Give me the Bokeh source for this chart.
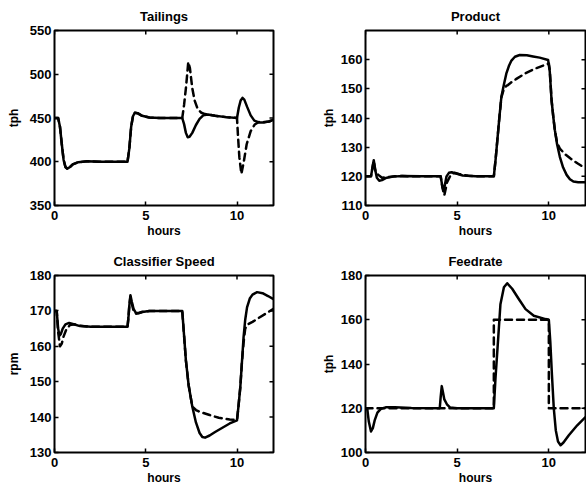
from math import pi

from bokeh.plotting import figure
from bokeh.layouts import gridplot
from bokeh.models import Range1d, FixedTicker
from bokeh.embed import file_html
from bokeh.resources import INLINE

# ---------------- data ----------------
hour_ticks = [0, 5, 10]
hour_range = (0, 12)

# Tailings (tph)
tailings_t_a = [0, 0.2, 0.3, 0.4, 0.5, 0.6, 0.7, 0.85, 1.0, 1.3, 1.8, 2.5, 4.0, 4.1, 4.2, 4.3, 4.4,
                4.55, 4.8, 5.2, 5.8, 7.0, 7.1, 7.2, 7.3, 7.4, 7.55, 7.75, 7.95, 8.15, 8.4, 8.8, 9.4,
                10.0, 10.1, 10.2, 10.3, 10.4, 10.55, 10.75, 10.95, 11.2, 11.5, 11.75, 12.0]
tailings_a = [450, 450, 440, 420, 402, 394, 392, 394, 397, 399.5, 400.5, 400, 400, 415, 440, 452, 456,
              455.5, 452.5, 450.5, 450, 450, 443, 433, 428, 428.5, 433, 442, 449, 453, 454, 452.5, 451,
              450, 462, 470, 473, 471, 463, 453, 447, 445, 445, 446, 448]
tailings_t_b = [0, 0.2, 0.3, 0.4, 0.5, 0.6, 0.7, 0.85, 1.0, 1.3, 1.8, 2.5, 4.0, 4.1, 4.2, 4.3, 4.4,
                4.55, 4.8, 5.2, 5.8, 7.0, 7.1, 7.2, 7.27, 7.33, 7.42, 7.55, 7.68, 7.85, 8.05, 8.25, 8.4,
                8.8, 9.4, 10.0, 10.05, 10.13, 10.24, 10.38, 10.53, 10.75, 10.97, 11.2, 11.5, 11.75, 12.0]
tailings_b = [450, 450, 440, 420, 402, 394, 392, 394, 397, 399.5, 400.5, 400, 400, 415, 440, 452, 456,
              455.5, 452.5, 450.5, 450, 450, 465, 484, 500, 514, 507, 484, 470, 460, 456, 454.5, 454,
              452.5, 451, 450, 431, 405, 386, 401, 420, 435, 442.5, 445.5, 445.5, 446, 448]

# Product (tph)
product_t_a = [0, 0.3, 0.38, 0.45, 0.52, 0.62, 0.75, 0.9, 1.1, 1.5, 2.0, 3.0, 4.1, 4.18, 4.26, 4.33,
               4.42, 4.55, 4.7, 4.9, 5.3, 6.0, 7.0, 7.1, 7.2, 7.3, 7.41, 7.55, 7.68, 7.82, 7.96, 8.15,
               8.41, 8.8, 9.14, 9.5, 9.96, 10.05, 10.15, 10.25, 10.33, 10.45, 10.6, 10.78, 10.97,
               11.15, 11.34, 11.6, 12.0]
product_a = [120, 120, 123, 125.5, 122.5, 119.5, 118.5, 118.7, 119.4, 119.9, 120.1, 120, 120, 117, 115,
             117, 120, 121.2, 121.4, 121, 120.3, 120, 120, 126, 133, 140, 147.2, 151.5, 155.2, 157.8,
             159.7, 161, 161.6, 161.5, 161.1, 160.7, 159.9, 156, 146, 140, 135.8, 131, 126.7, 123,
             120.5, 119, 118.2, 118, 118]
product_t_b = [0, 0.3, 0.38, 0.45, 0.55, 0.7, 0.9, 1.2, 1.6, 2.0, 3.0, 4.1, 4.2, 4.3, 4.45, 4.65, 4.85,
               5.1, 5.6, 6.0, 7.0, 7.1, 7.2, 7.3, 7.41, 7.55, 7.68, 7.77, 8.0, 8.23, 8.69, 9.24, 9.87,
               10.0, 10.05, 10.15, 10.25, 10.33, 10.45, 10.6, 10.9, 11.2, 11.6, 12.0]
product_b = [120, 120, 123, 125.3, 121.5, 120.5, 119.5, 119.7, 120, 120.1, 120, 120, 116, 113.5, 118,
             120.5, 121.2, 120.8, 120.2, 120, 120, 126, 133, 140, 147, 150, 151, 151.3, 152.5, 153.4,
             155.2, 156.9, 158.4, 158.7, 156.5, 146, 140, 135.8, 131.5, 129.5, 127.5, 126, 124.3, 122.7]

# Classifier speed (rpm)
classifier_t_a = [0, 0.12, 0.2, 0.27, 0.35, 0.45, 0.6, 0.8, 1.0, 1.4, 2.0, 4.0, 4.05, 4.1, 4.16, 4.24,
                  4.33, 4.45, 4.6, 4.8, 5.2, 7.0, 7.1, 7.2, 7.35, 7.55, 7.75, 7.95, 8.1, 8.25, 8.5, 8.8,
                  9.2, 9.6, 10.0, 10.08, 10.18, 10.27, 10.36, 10.45, 10.55, 10.7, 10.85, 11.1, 11.4,
                  11.7, 12.0]
classifier_a = [170, 170, 165, 163, 163.5, 165, 166.2, 166.6, 166.3, 165.7, 165.5, 165.5, 168, 171.5,
                174.4, 172.5, 170.6, 169.5, 169.4, 169.7, 170, 170, 163, 156, 149, 143, 138.5, 135.5,
                134.4, 134.2, 134.8, 135.8, 137, 138.2, 139.1, 143, 148.4, 155.5, 162.6, 167.5, 171,
                173.5, 174.6, 175.3, 175, 174.2, 173.3]
classifier_t_b = [0, 0.12, 0.2, 0.3, 0.4, 0.5, 0.65, 0.85, 1.1, 1.4, 2.0, 4.0, 4.05, 4.1, 4.16, 4.24,
                  4.33, 4.45, 4.6, 4.8, 5.2, 7.0, 7.1, 7.2, 7.35, 7.55, 7.75, 8.0, 8.5, 9.0, 9.6, 10.0,
                  10.08, 10.18, 10.27, 10.36, 10.45, 10.6, 10.85, 11.25, 11.6, 12.0]
classifier_b = [170, 170, 164, 160, 160.8, 162.8, 164.8, 166, 166.2, 165.8, 165.5, 165.5, 168, 171.5,
                174, 172, 170, 169.2, 169.3, 169.7, 170, 170, 163, 156, 149, 143, 142, 141.4, 140.6,
                139.8, 139.3, 139.2, 143, 148.4, 155.5, 161, 165, 166.2, 166.9, 168.2, 169.3, 170.6]

# Feedrate (tph)
feedrate_t_a = [0, 0.1, 0.18, 0.3, 0.4, 0.5, 0.65, 0.85, 1.1, 1.6, 2.5, 4.05, 4.1, 4.16, 4.22, 4.3,
                4.44, 4.62, 5.0, 7.0, 7.09, 7.24, 7.36, 7.55, 7.73, 8.0, 8.36, 8.73, 9.18, 9.82, 10.0,
                10.08, 10.17, 10.27, 10.38, 10.5, 10.64, 10.8, 11.09, 11.55, 12.0]
feedrate_a = [120, 119.5, 114, 109.5, 111, 114.5, 118, 119.8, 120.4, 120.5, 120.1, 120, 125, 130, 127.5,
              124, 121.8, 120.3, 120, 120, 133.6, 151.9, 167, 174.7, 176.5, 174, 169.4, 164.8, 161.8,
              160.3, 160, 150, 135, 120, 110, 105, 103.3, 104.5, 107.8, 112.3, 116]
feedrate_t_b = [0, 7.0, 7.0, 10.0, 10.0, 12.0]
feedrate_b = [120, 120, 160, 160, 120, 120]

# ---------------- styling helpers ----------------
FONT = "Liberation Sans"


def styled_axis(ax, ticks, label):
    ax.ticker = FixedTicker(ticks=ticks)
    ax.major_tick_in = 4
    ax.major_tick_out = 0
    ax.major_tick_line_width = 1.5
    ax.major_tick_line_color = "black"
    ax.minor_tick_line_color = None
    ax.axis_line_color = None
    ax.major_label_text_font = FONT
    ax.major_label_text_font_style = "bold"
    ax.major_label_text_font_size = "13px"
    ax.major_label_text_color = "black"
    ax.axis_label = label
    ax.axis_label_text_font = FONT
    ax.axis_label_text_font_style = "bold"
    ax.axis_label_text_font_size = "12px"
    ax.axis_label_text_color = "black"


def panel(title, ylabel, yr, yticks, curves, left, right, top, bottom, height, ylabel_standoff,
          title_standoff):
    p = figure(width=293, height=height, output_backend="svg", toolbar_location=None,
               x_range=Range1d(*hour_range), y_range=Range1d(*yr),
               min_border_left=left, min_border_right=right,
               min_border_top=top, min_border_bottom=bottom,
               background_fill_color="white", border_fill_color="white")
    p.title.text = title
    p.title.align = "center"
    p.title.text_font = FONT
    p.title.text_font_style = "bold"
    p.title.text_font_size = "13px"
    p.title.text_color = "black"
    p.title.standoff = title_standoff
    p.outline_line_color = "black"
    p.outline_line_width = 2
    p.outline_line_alpha = 1
    p.xgrid.grid_line_color = None
    p.ygrid.grid_line_color = None

    styled_axis(p.xaxis[0], hour_ticks, "hours")
    p.xaxis[0].major_label_standoff = 5
    p.xaxis[0].axis_label_standoff = 1
    styled_axis(p.yaxis[0], yticks, ylabel)
    p.yaxis[0].major_label_standoff = 3
    p.yaxis[0].axis_label_standoff = ylabel_standoff

    # mirrored inward ticks on the top and right edges of the box
    p.ray(x=hour_ticks, y=[yr[1]] * len(hour_ticks), length=4, length_units="screen",
          angle=-pi / 2, line_color="black", line_width=1.5)
    p.ray(x=[hour_range[1]] * len(yticks), y=yticks, length=4, length_units="screen",
          angle=pi, line_color="black", line_width=1.5)

    for t, v, dash in curves:
        p.line(t, v, line_color="black", line_width=2.5, line_dash=dash,
               line_join="round", line_cap="round")
    return p


p1 = panel("Tailings", "tph", (350, 550), [350, 400, 450, 500, 550],
           [(tailings_t_b, tailings_b, "7 5"), (tailings_t_a, tailings_a, "solid")],
           54, 20, 29, 38, 243, 6, 13)
p2 = panel("Product", "tph", (110, 170), [110, 120, 130, 140, 150, 160],
           [(product_t_b, product_b, "7 5"), (product_t_a, product_a, "solid")],
           72, 1, 29, 38, 243, 2, 13)
p3 = panel("Classifier Speed", "rpm", (130, 180), [130, 140, 150, 160, 170, 180],
           [(classifier_t_b, classifier_b, "7 5"), (classifier_t_a, classifier_a, "solid")],
           54, 20, 32, 35, 244, 6, 14)
p4 = panel("Feedrate", "tph", (100, 180), [100, 120, 140, 160, 180],
           [(feedrate_t_b, feedrate_b, "7 5"), (feedrate_t_a, feedrate_a, "solid")],
           72, 1, 32, 35, 244, 2, 14)

grid = gridplot([[p1, p2], [p3, p4]], toolbar_location=None)

open("out.html", "w").write(file_html(grid, INLINE))
